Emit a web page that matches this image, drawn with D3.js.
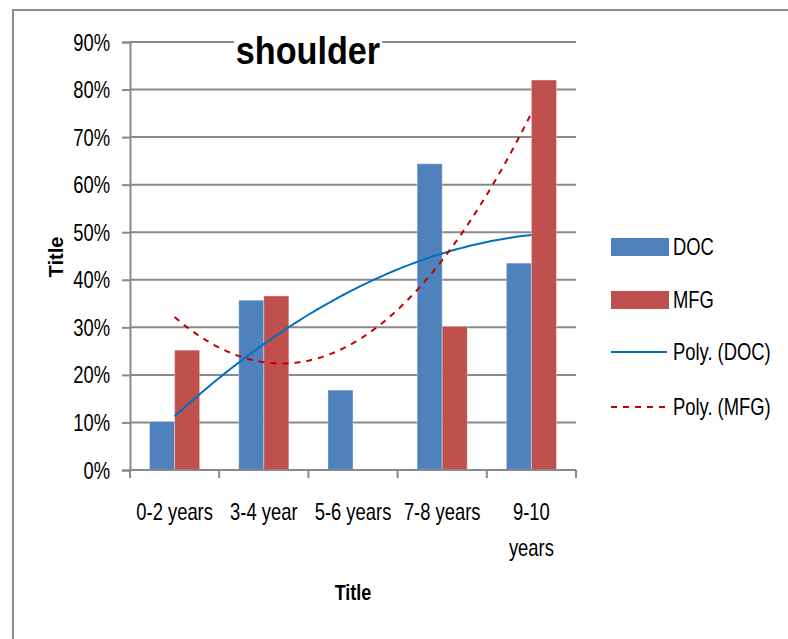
<!DOCTYPE html>
<html>
<head>
<meta charset="utf-8">
<script src="https://cdn.jsdelivr.net/npm/d3@7"></script>
<style>
  html, body { margin: 0; padding: 0; background: #fff; }
  svg { display: block; }
  text { font-family: "Liberation Sans", Arial, sans-serif; fill: #000; }
</style>
</head>
<body>
<svg id="chart" width="788" height="639"></svg>
<script>
// Age groups and the share of each group, per series (null = no value)
const categories = ["0-2 years", "3-4 year", "5-6 years", "7-8 years", "9-10 years"];
const docValues = [0.102, 0.357, 0.168, 0.644, 0.435];
const mfgValues = [0.252, 0.366, null, 0.302, 0.820];
const yTicks = [0, 0.1, 0.2, 0.3, 0.4, 0.5, 0.6, 0.7, 0.8, 0.9];
const seriesNames = ["DOC", "MFG"];
const trendNames = ["Poly. (DOC)", "Poly. (MFG)"];

const colors = { DOC: "#4F81BD", MFG: "#C0504D", trendDOC: "#0070C0", trendMFG: "#C00000" };
const GRID = "#898989";
const SQUEEZE = 0.8;   // horizontal compression for a narrow label face

const svg = d3.select("#chart");
const plot = { left: 130, right: 576, top: 42, bottom: 470 };

// Narrow text: a group placed at (x, y) and squeezed horizontally
function narrowText(parent, xPos, yPos, str, size, anchor, sx = SQUEEZE) {
  const g = parent.append("g").attr("transform", `translate(${xPos},${yPos}) scale(${sx},1)`);
  return g.append("text").attr("x", 0).attr("y", 0)
    .attr("font-size", size).attr("text-anchor", anchor || "start").text(str);
}

// Outer chart frame
svg.append("rect")
  .attr("x", 13).attr("y", 10).attr("width", 800).attr("height", 700)
  .attr("fill", "#fff").attr("stroke", "#8c8c8c").attr("stroke-width", 2);

const x = d3.scaleBand().domain(categories).range([plot.left, plot.right]);
const y = d3.scaleLinear().domain([0, 0.9]).range([plot.bottom, plot.top]);

// Horizontal gridlines
svg.append("g").selectAll("line").data(yTicks.slice(1)).join("line")
  .attr("x1", plot.left).attr("x2", plot.right)
  .attr("y1", d => y(d)).attr("y2", d => y(d))
  .attr("stroke", GRID).attr("stroke-width", 2);

// Y axis
const yAxis = svg.append("g")
  .attr("transform", `translate(${plot.left},0)`)
  .call(d3.axisLeft(y).tickValues(yTicks).tickFormat(d3.format(".0%")).tickSize(8));
yAxis.select(".domain").attr("stroke", GRID).attr("stroke-width", 2);
yAxis.selectAll(".tick line").attr("stroke", GRID).attr("stroke-width", 2);
yAxis.selectAll(".tick text")
  .attr("font-size", 23).attr("font-family", "Liberation Sans, sans-serif")
  .attr("x", -20 / SQUEEZE).attr("dy", "0.35em")
  .attr("transform", `scale(${SQUEEZE},1)`);

// Bars: two per category
const inner = d3.scaleBand().domain(seriesNames)
  .range([0, x.bandwidth()]).paddingOuter(0.78).paddingInner(0);
const barData = [];
categories.forEach((c, i) => {
  barData.push({ cat: c, s: "DOC", v: docValues[i] });
  if (mfgValues[i] != null) barData.push({ cat: c, s: "MFG", v: mfgValues[i] });
});
svg.append("g").selectAll("rect").data(barData).join("rect")
  .attr("x", d => x(d.cat) + inner(d.s))
  .attr("width", inner.bandwidth())
  .attr("y", d => y(d.v))
  .attr("height", d => y(0) - y(d.v))
  .attr("fill", d => colors[d.s])
  .attr("stroke", "rgba(255,255,255,0.35)").attr("stroke-width", 1);

// X axis line with ticks at category boundaries
svg.append("line")
  .attr("x1", plot.left).attr("x2", plot.right)
  .attr("y1", y(0)).attr("y2", y(0))
  .attr("stroke", GRID).attr("stroke-width", 2);
const bounds = categories.map(c => x(c)).concat([plot.right]);
svg.append("g").selectAll("line").data(bounds).join("line")
  .attr("x1", d => d).attr("x2", d => d)
  .attr("y1", y(0)).attr("y2", y(0) + 8)
  .attr("stroke", GRID).attr("stroke-width", 2);

// Category labels; the last one wraps onto two lines
const xLabelG = svg.append("g");
categories.forEach(c => {
  const cx = x(c) + x.bandwidth() / 2;
  if (c === "9-10 years") {
    narrowText(xLabelG, cx, 520, "9-10", 23, "middle");
    narrowText(xLabelG, cx, 556, "years", 23, "middle");
  } else {
    narrowText(xLabelG, cx, 520, c, 23, "middle");
  }
});

// Least-squares polynomial fit, skipping missing values
function polyFit(values, order) {
  const pts = values.map((v, i) => [i + 1, v]).filter(p => p[1] != null);
  const n = order + 1;
  const A = Array.from({ length: n }, () => new Array(n + 1).fill(0));
  pts.forEach(([xv, yv]) => {
    for (let r = 0; r < n; r++) {
      for (let c = 0; c < n; c++) A[r][c] += Math.pow(xv, r + c);
      A[r][n] += yv * Math.pow(xv, r);
    }
  });
  for (let i = 0; i < n; i++) {
    let p = i;
    for (let r = i + 1; r < n; r++) if (Math.abs(A[r][i]) > Math.abs(A[p][i])) p = r;
    const tmp = A[i]; A[i] = A[p]; A[p] = tmp;
    for (let r = 0; r < n; r++) {
      if (r === i) continue;
      const f = A[r][i] / A[i][i];
      for (let c = i; c <= n; c++) A[r][c] -= f * A[i][c];
    }
  }
  const coef = A.map((row, i) => row[n] / row[i]);
  return xv => coef.reduce((s, c, k) => s + c * Math.pow(xv, k), 0);
}

const xPos = d3.scaleLinear().domain([1, categories.length])
  .range([x(categories[0]) + x.bandwidth() / 2, x(categories[categories.length - 1]) + x.bandwidth() / 2]);
const samples = d3.range(1, categories.length + 0.0001, 0.05);
const line = d3.line().x(d => xPos(d[0])).y(d => y(d[1]));

const fitDOC = polyFit(docValues, 2);
const fitMFG = polyFit(mfgValues, 2);

svg.append("path")
  .attr("d", line(samples.map(s => [s, fitDOC(s)])))
  .attr("fill", "none").attr("stroke", colors.trendDOC).attr("stroke-width", 2);
svg.append("path")
  .attr("d", line(samples.map(s => [s, fitMFG(s)])))
  .attr("fill", "none").attr("stroke", colors.trendMFG).attr("stroke-width", 2)
  .attr("stroke-dasharray", "6,6");

// Chart title on a white box over the top gridline
const titleG = svg.append("g");
const titleBg = titleG.append("rect").attr("fill", "#fff");
const title = narrowText(titleG, 308, 64, "shoulder", 38, "middle", 0.9)
  .attr("font-weight", "bold");
const bb = title.node().getBBox();
titleBg
  .attr("x", 308 + bb.x * 0.9 - 2).attr("y", 64 + bb.y + 6)
  .attr("width", bb.width * 0.9 + 4).attr("height", bb.height - 10);

// Axis titles
svg.append("text")
  .attr("transform", "translate(63,257) rotate(-90)")
  .attr("text-anchor", "middle")
  .attr("font-size", 20).attr("font-weight", "bold")
  .attr("font-family", "DejaVu Sans, sans-serif")
  .text("Title");
narrowText(svg, 353, 600, "Title", 22, "middle", 0.82).attr("font-weight", "bold");

// Legend
const legend = svg.append("g");
const legendY = [247, 300, 352, 407];
seriesNames.forEach((s, i) => {
  legend.append("rect")
    .attr("x", 611).attr("y", legendY[i] - 9).attr("width", 58).attr("height", 18)
    .attr("fill", colors[s]);
});
legend.append("line")
  .attr("x1", 611).attr("x2", 667).attr("y1", legendY[2]).attr("y2", legendY[2])
  .attr("stroke", colors.trendDOC).attr("stroke-width", 2);
legend.append("line")
  .attr("x1", 611).attr("x2", 667).attr("y1", legendY[3]).attr("y2", legendY[3])
  .attr("stroke", colors.trendMFG).attr("stroke-width", 2).attr("stroke-dasharray", "6,6");
seriesNames.concat(trendNames).forEach((name, i) => {
  narrowText(legend, 673, legendY[i] + 8, name, 23, "start");
});
</script>
</body>
</html>
